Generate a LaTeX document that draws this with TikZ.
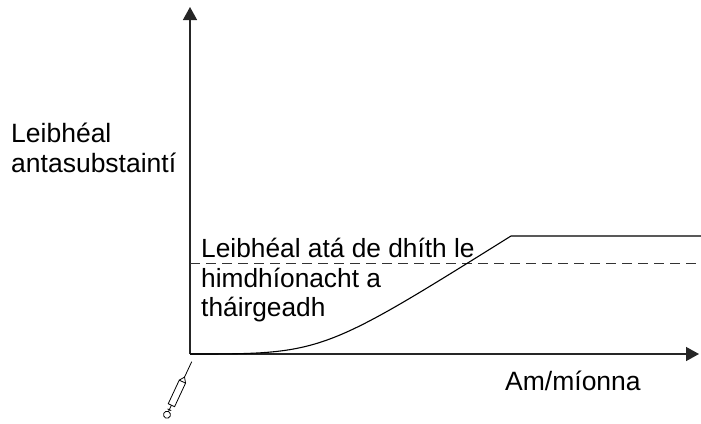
\documentclass[tikz,border=0pt]{standalone}
\usepackage{fontspec}
\setmainfont{Liberation Sans}
\usetikzlibrary{arrows.meta}
\begin{document}
\begin{tikzpicture}[x=1pt,y=-1pt,
  axis/.style={line width=1.4pt,draw=black!85,-{Triangle[width=14pt,length=13pt]}},
  curveline/.style={line width=1.1pt},
  dashline/.style={line width=0.9pt,draw=black!80,dash pattern=on 10pt off 6pt},
  lbl/.style={anchor=base west,inner sep=0pt,font=\fontsize{26.5}{30}\selectfont},
  innerlbl/.style={anchor=base west,inner sep=0pt,font=\fontsize{26.3}{30}\selectfont},
  syr/.style={line width=0.8pt}]
\useasboundingbox (0,0) rectangle (701,423);
% axes
\coordinate (O) at (190,354);
\coordinate (ytop) at (190,7);
\coordinate (xend) at (699,354);
\draw[axis] (O) -- (ytop);
\draw[axis] (O) -- (xend);
% dashed level
\coordinate (dl) at (190,263);
\coordinate (dr) at (701,263);
\draw[dashline] (dl) -- (dr);
% response curve
\coordinate (knee) at (511,236);
\coordinate (rend) at (701,236);
\draw[curveline] (O) .. controls (322,354) .. (knee) -- (rend);
% labels
\node[lbl] (yl1) at (11,142) {Leibhéal};
\node[lbl] (yl2) at (11,172) {antasubstaintí};
\node[innerlbl] (il1) at (201,257) {Leibhéal atá de dhíth le};
\node[innerlbl] (il2) at (201,287) {himdhíonacht a};
\node[innerlbl] (il3) at (201,316) {tháirgeadh};
\node[lbl] (xl) at (505,390) {Am/míonna};
% syringe
\begin{scope}[shift={(191.7,361.7)},rotate=-25,syr]
  \draw (0,0) -- (0,17);
  \draw (-3.5,22) -- (0,17) -- (3.5,22);
  \draw (-3.5,22) rectangle (3.5,48);
  \draw (0,48) -- (0,55);
  \draw (-2,53) -- (2,53);
  \draw (0,58.5) circle[radius=3.5];
\end{scope}
\end{tikzpicture}
\end{document}
